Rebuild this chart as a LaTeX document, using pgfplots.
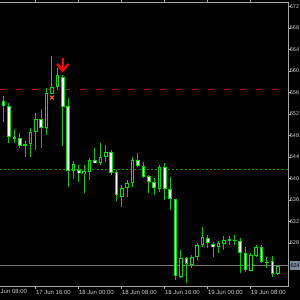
\documentclass[border=0pt]{standalone}
\usepackage{pgfplots}
\pgfplotsset{compat=1.18}
\usepackage{pgfplotstable}
\usepackage{fontspec}
\setmainfont{Liberation Sans}
\definecolor{wickc}{RGB}{0,205,0}
\definecolor{bodyc}{RGB}{0,225,0}
\definecolor{axisgray}{RGB}{165,165,165}
\definecolor{labelgray}{RGB}{205,205,205}
\definecolor{bidgray}{RGB}{115,115,115}
\definecolor{slate}{RGB}{119,136,153}
\definecolor{lvlred}{RGB}{175,10,10}
\definecolor{lvlgreen}{RGB}{0,150,0}
\definecolor{xorange}{RGB}{240,95,20}

\pgfplotstableread{
i O H L C
0 654.419 655.349 650.512 653.488
1 653.488 654.047 646.605 647.721
2 647.442 649.209 646.605 647.721
3 647.535 648.465 645.674 646.047
4 646.233 646.977 644.000 646.419
5 646.419 649.395 644.000 648.651
6 648.651 652.186 645.302 651.070
7 651.070 652.930 645.674 649.395
8 649.395 656.837 648.093 655.907
9 655.721 662.791 655.721 657.023
10 657.023 660.558 656.465 659.256
11 658.884 659.256 646.047 653.302
12 653.488 654.977 638.419 641.395
13 641.395 643.256 639.907 642.698
14 641.581 642.512 639.349 641.023
15 640.837 642.512 637.302 641.395
16 641.209 643.814 639.721 643.442
17 643.442 645.674 642.884 642.884
18 642.884 646.605 642.512 644.000
19 644.000 646.233 643.070 644.930
20 644.930 645.302 640.651 641.023
21 641.209 641.581 635.814 636.930
22 636.558 638.791 634.698 638.233
23 638.233 639.721 636.558 639.163
24 639.163 644.000 638.419 643.442
25 643.442 644.744 642.140 642.326
26 642.326 643.070 640.093 640.279
27 640.465 640.651 637.302 639.349
28 639.349 640.093 636.930 638.233
29 638.047 642.512 637.488 642.140
30 642.140 642.884 636.000 638.047
31 638.047 640.279 634.140 636.186
32 636.186 636.186 621.116 621.860
33 621.730 626.698 621.488 625.209
34 625.209 625.451 620.614 624.093
35 623.907 625.767 623.349 625.395
36 625.395 628.000 624.837 627.628
37 627.628 630.977 627.256 629.116
38 628.930 629.488 627.070 628.000
39 627.814 628.242 625.451 627.256
40 627.256 628.372 626.195 628.000
41 627.814 629.302 626.698 628.558
42 628.465 629.302 627.628 628.651
43 628.651 629.488 627.628 628.400
44 628.372 628.870 622.363 626.084
45 626.084 627.312 622.661 622.977
46 622.847 626.140 622.791 625.767
47 625.581 627.628 625.395 627.312
48 627.312 627.628 624.279 624.521
49 624.335 625.451 623.349 624.521
50 624.651 625.581 621.674 622.233
51 622.233 623.907 622.047 623.721
}\candles

\begin{document}
\begin{tikzpicture}
\useasboundingbox (0,0) rectangle (300pt,300pt);
\fill[black] (0,0) rectangle (300pt,300pt);
\begin{axis}[
  at={(0pt,13.5pt)}, anchor=south west,
  scale only axis, width=288pt, height=284.5pt,
  xmin=-0.67, xmax=52.91, ymin=619.907, ymax=672.837,
  axis x line*=box, axis y line*=right,
  axis line style={draw=axisgray, line width=0.9pt},
  tick align=outside, major tick length=2.5pt,
  tick style={draw=axisgray, line width=0.8pt},
  xtick={6,14,22,30,38,46},
  xticklabels={17 Jun 16:00,18 Jun 00:00,18 Jun 08:00,18 Jun 16:00,19 Jun 00:00,19 Jun 08:00},
  ytick={628,632,636,640,644,648,652,656,660,664,668,672},
  yticklabels={628,632,636,640,644,648,652,656,660,664,668,672},
  xticklabel style={anchor=north west, inner sep=0pt, xshift=0pt, yshift=-1pt, text=labelgray, font=\fontsize{6}{7}\selectfont},
  yticklabel style={anchor=west, inner sep=0pt, xshift=-0.8pt, text=labelgray, font=\fontsize{5.5}{6.5}\selectfont},
  clip=true,
]
% level lines
\addplot[lvlred, line width=0.9pt, dash pattern=on 6pt off 4.5pt on 1.8pt off 3.7pt] coordinates {(-0.67,656.6) (52.91,656.6)};
\addplot[lvlgreen, line width=0.9pt, dash pattern=on 2pt off 2.2pt] coordinates {(-0.67,641.64) (52.91,641.64)};
\addplot[bidgray, line width=1pt] coordinates {(-0.67,623.78) (52.91,623.78)};
% wicks
\addplot[draw=none, error bars/.cd, y dir=both, y explicit, error mark=none,
  error bar style={draw=wickc, line width=1pt, solid}]
  table[x=i, y expr={(\thisrow{H}+\thisrow{L})/2}, y error expr={(\thisrow{H}-\thisrow{L})/2}] {\candles};
% body outlines
\addplot[draw=none, error bars/.cd, y dir=both, y explicit, error mark=none,
  error bar style={draw=bodyc, line width=3.6pt, solid, line cap=butt}]
  table[x=i, y expr={(\thisrow{O}+\thisrow{C})/2}, y error expr={max(abs(\thisrow{O}-\thisrow{C})/2,0.093)}] {\candles};
% bear fill
\addplot[draw=none, error bars/.cd, y dir=both, y explicit, error mark=none,
  error bar style={draw=white, line width=1.6pt, solid, line cap=butt}]
  table[x=i, y expr={(\thisrow{O}+\thisrow{C})/2}, y error expr={(\thisrow{O}>\thisrow{C})*max(abs(\thisrow{O}-\thisrow{C})/2-0.186,0)}] {\candles};
% bull fill
\addplot[draw=none, error bars/.cd, y dir=both, y explicit, error mark=none,
  error bar style={draw=black, line width=1.6pt, solid, line cap=butt}]
  table[x=i, y expr={(\thisrow{O}+\thisrow{C})/2}, y error expr={(\thisrow{C}>\thisrow{O})*max(abs(\thisrow{O}-\thisrow{C})/2-0.186,0)}] {\candles};
% sell arrow
\addplot[red, line width=2.2pt] coordinates {(11,662.5) (11,660.3)};
\addplot[red, line width=2.4pt, line join=miter] coordinates {(9.95,661.3) (11,660.05) (12.05,661.3)};
% order cross
\addplot[only marks, mark=x, mark size=2.6pt, xorange, mark options={line width=1.2pt}] coordinates {(9,655.07)};
\end{axis}
\node[anchor=north west, inner sep=0pt, text=labelgray, font=\fontsize{6}{7}\selectfont] at (0.5pt,10.5pt) {Jun 08:00};
\node[anchor=west, fill=slate, inner sep=0.8pt, minimum height=9pt, text=black, font=\fontsize{5.5}{6.5}\selectfont] at (289.5pt,34.3pt) {624};
\end{tikzpicture}
\end{document}
